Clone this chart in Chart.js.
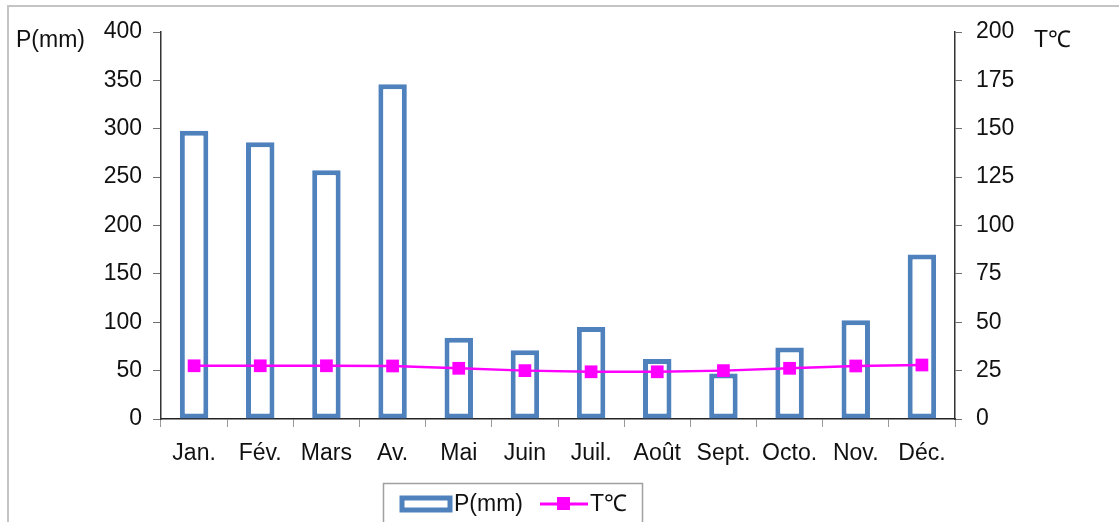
<!DOCTYPE html>
<html>
<head>
<meta charset="utf-8">
<script src="https://cdn.jsdelivr.net/npm/chart.js@4.4.0/dist/chart.umd.min.js"></script>
<style>
  body { margin: 0; background: #fff; }
  #wrap { width: 1119px; height: 522px; }
</style>
</head>
<body>
<div id="wrap"><canvas id="mycanvas" width="1119" height="522"></canvas></div>
<script>
var months = ['Jan.', 'Fév.', 'Mars', 'Av.', 'Mai', 'Juin', 'Juil.', 'Août', 'Sept.', 'Octo.', 'Nov.', 'Déc.'];
var precip = [298, 286, 257, 346, 84, 71, 95, 62, 47, 74, 102, 170];
var temp = [27.5, 27.5, 27.5, 27.4, 26.2, 25.0, 24.4, 24.4, 25.0, 26.2, 27.4, 27.9];
var leftTicks = [0, 50, 100, 150, 200, 250, 300, 350, 400];
var rightTicks = [0, 25, 50, 75, 100, 125, 150, 175, 200];

var FONT = "'Liberation Sans', Arial, sans-serif";
var BLUE = '#4F81BD';
var PINK = '#FF00FF';

// frame, axis titles and boxed legend
var extras = {
	id: 'extras',
	afterDraw: function(chart) {
		var ctx = chart.ctx;
		ctx.save();
		ctx.strokeStyle = '#c4c4c4';
		ctx.lineWidth = 2;
		ctx.beginPath();
		ctx.moveTo(8, 530);
		ctx.lineTo(8, 6);
		ctx.lineTo(1130, 6);
		ctx.stroke();

		ctx.fillStyle = '#111';
		ctx.font = '23px ' + FONT;
		ctx.textBaseline = 'middle';
		ctx.textAlign = 'left';
		ctx.fillText('P(mm)', 16, 41);
		ctx.fillText('T℃', 1034, 41);

		// legend
		ctx.strokeStyle = '#a0a0a0';
		ctx.lineWidth = 1.5;
		ctx.strokeRect(383.5, 483.5, 259, 40);
		ctx.fillStyle = '#fff';
		ctx.strokeStyle = BLUE;
		ctx.lineWidth = 5;
		ctx.beginPath();
		ctx.rect(402, 498, 48, 12);
		ctx.fill();
		ctx.stroke();
		ctx.fillStyle = '#111';
		ctx.fillText('P(mm)', 454, 505);
		ctx.strokeStyle = PINK;
		ctx.lineWidth = 3;
		ctx.beginPath();
		ctx.moveTo(540, 504);
		ctx.lineTo(588, 504);
		ctx.stroke();
		ctx.fillStyle = PINK;
		ctx.fillRect(557, 497, 13, 13);
		ctx.fillStyle = '#111';
		ctx.fillText('T℃', 590, 505);
		ctx.restore();
	}
};

var chartdata = {
	labels: months,
	datasets: [
		{
			type: 'line',
			label: 'T℃',
			data: temp,
			yAxisID: 'yT',
			borderColor: PINK,
			backgroundColor: PINK,
			borderWidth: 2.5,
			pointStyle: 'rect',
			pointRadius: 9,
			pointBorderWidth: 0,
			tension: 0,
			order: 0
		},
		{
			type: 'bar',
			label: 'P(mm)',
			data: precip,
			yAxisID: 'yP',
			backgroundColor: '#ffffff',
			borderColor: BLUE,
			borderWidth: 5,
			borderSkipped: false,
			barPercentage: 0.43,
			categoryPercentage: 1,
			order: 1
		}
	]
};

var ctx = document.getElementById('mycanvas');
var barGraph = new Chart(ctx, {
	data: chartdata,
	plugins: [extras],
	options: {
		responsive: false,
		animation: false,
		layout: { padding: { top: 32, left: 0, right: 0, bottom: 0 } },
		plugins: { legend: { display: false }, tooltip: { enabled: false } },
		scales: {
			x: {
				afterFit: function(s) { s.height = 103; },
				grid: { drawOnChartArea: false, drawTicks: true, tickLength: 8, color: '#9a9a9a', offset: true },
				border: { display: true, color: '#222', width: 1.5 },
				ticks: { color: '#111', font: { family: FONT, size: 23 }, padding: 13, maxRotation: 0, autoSkip: false }
			},
			yP: {
				position: 'left',
				min: 0, max: 400,
				afterFit: function(s) { s.width = 161; },
				afterBuildTicks: function(s) { s.ticks = leftTicks.map(function(v) { return { value: v }; }); },
				grid: { drawOnChartArea: false, drawTicks: true, tickLength: 8, color: '#707070' },
				border: { display: true, color: '#333', width: 1.5 },
				ticks: { color: '#111', font: { family: FONT, size: 23 }, padding: 11 }
			},
			yT: {
				position: 'right',
				min: 0, max: 200,
				afterFit: function(s) { s.width = 164; },
				afterBuildTicks: function(s) { s.ticks = rightTicks.map(function(v) { return { value: v }; }); },
				grid: { drawOnChartArea: false, drawTicks: true, tickLength: 7, color: '#707070' },
				border: { display: true, color: '#333', width: 1.5 },
				ticks: { color: '#111', font: { family: FONT, size: 23 }, padding: 14 }
			}
		}
	}
});
</script>
</body>
</html>
